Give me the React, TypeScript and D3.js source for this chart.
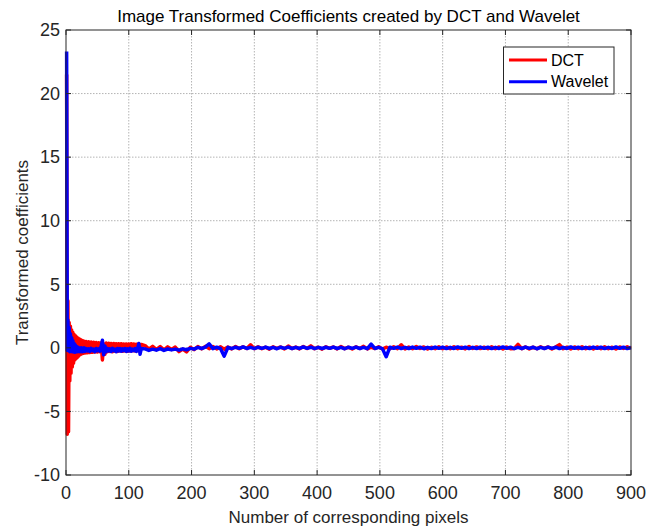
import * as d3 from "d3";

const xTicks = [0, 100, 200, 300, 400, 500, 600, 700, 800, 900];
const yTicks = [-10, -5, 0, 5, 10, 15, 20, 25];

// pixel index where each sample sits (dense at the start, where the coefficients are large)
const pixelIdx = [
    ...d3.range(1, 31),
    ...d3.range(32, 121, 2),
    ...d3.range(126, 901, 6),
];

const dctValues = [
    21.5, -6.8, 3.7, -6.6, 2.0, -2.6, 1.7, -2.0, 1.4, -1.5,
    1.2, -1.2, 1.05, -0.95, 0.95, -0.85, 0.85, -0.75, 0.78, -0.65,
    0.72, -0.55, 0.66, -0.5, 0.6, -0.45, 0.56, -0.42, 0.52, -0.4,
    // 32..120
    0.5, -0.38, 0.48, -0.36, 0.46, -0.35, 0.44, -0.33, 0.42, -0.32,
    0.4, -0.3, 0.4, -0.95, 0.3, -0.5, 0.38, -0.3, 0.36, -0.28,
    0.35, -0.3, 0.34, -0.26, 0.33, -0.28, 0.32, -0.25, 0.32, -0.27,
    0.3, -0.24, 0.3, -0.26, 0.3, -0.25, 0.32, -0.22, 0.3, -0.24,
    0.28, -0.22, 0.3, -0.3, 0.26,
    // 126..900
    0.18, -0.1, 0.12, -0.14, 0.1, -0.16, 0.08, -0.12, 0.06, -0.3,
    -0.1, -0.32, 0.05, -0.14, 0.1, -0.08, 0.12, -0.06, 0.1, -0.08,
    0.08, -0.1, 0.06, -0.08, 0.1, -0.06, 0.08, -0.05, 0.24, -0.06,
    0.08, -0.06, 0.05, -0.1, 0.08, -0.05, 0.07, -0.08, 0.14, -0.05,
    0.06, -0.08, 0.1, -0.05, 0.16, -0.07, 0.05, -0.1, 0.08, -0.04,
    0.07, -0.08, 0.1, -0.06, 0.05, -0.09, 0.08, -0.05, 0.12, -0.08,
    0.06, -0.05, 0.08, -0.1, 0.05, -0.07, 0.08, -0.06, 0.24, -0.08,
    0.06, -0.07, 0.1, -0.05, 0.07, -0.09, 0.05, -0.06, 0.08, -0.07,
    0.07, -0.06, 0.08, -0.07, 0.05, -0.08, 0.1, -0.05, 0.07, -0.06,
    0.05, -0.07, 0.08, -0.06, 0.07, -0.09, 0.06, -0.07, -0.05, 0.28,
    -0.06, 0.07, -0.08, 0.05, -0.07, 0.09, -0.05, 0.07, -0.08, 0.06,
    0.25, -0.07, 0.05, -0.08, 0.07, -0.06, 0.09, -0.07, 0.05, -0.08,
    0.07, -0.06, 0.08, -0.07, 0.05, -0.09, 0.07, -0.05, 0.08, -0.04,
];

const waveletValues = [
    23.3, -0.2, 2.2, 0.0, 1.6, -0.3, 1.1, -0.2, 0.8, -0.3,
    0.55, -0.3, 0.35, -0.35, 0.22, -0.3, 0.1, -0.3, 0.05, -0.28,
    0.0, -0.3, -0.02, -0.28, 0.0, -0.3, -0.05, -0.25, 0.0, -0.28,
    // 32..120
    -0.05, -0.25, -0.08, -0.28, -0.04, -0.22, -0.1, -0.3, -0.05, -0.22,
    -0.08, -0.26, 0.1, 0.6, -0.55, 0.15, -0.3, -0.05, -0.25, -0.08,
    -0.28, -0.04, -0.22, -0.1, -0.3, -0.05, -0.24, -0.06, -0.26, -0.08,
    -0.22, -0.05, -0.28, -0.08, -0.24, -0.04, -0.26, -0.1, -0.22, -0.05,
    -0.28, -0.08, 0.35, -0.5, -0.05,
    // 126..900
    -0.08, -0.2, -0.1, -0.18, -0.06, -0.2, -0.09, -0.16, -0.1, -0.18,
    -0.08, -0.15, -0.04, -0.1, 0.04, -0.05, 0.06, 0.32, -0.06, 0.05,
    -0.05, -0.65, 0.04, -0.06, 0.05, -0.04, 0.07, -0.05, 0.04, -0.06,
    0.05, -0.04, 0.06, -0.05, 0.04, -0.07, 0.05, -0.04, 0.06, -0.05,
    0.04, -0.05, 0.07, -0.04, 0.05, -0.06, 0.04, -0.05, 0.05, -0.04,
    0.06, -0.05, 0.04, -0.07, 0.05, -0.04, 0.06, -0.05, 0.04, -0.06,
    0.3, -0.05, 0.04, -0.06, -0.7, 0.05, -0.04, 0.06, -0.05, 0.04,
    -0.05, 0.06, -0.04, 0.05, -0.07, 0.04, -0.05, 0.06, -0.04, 0.05,
    -0.06, 0.04, -0.05, 0.07, -0.04, 0.05, -0.06, 0.04, -0.05, 0.06,
    -0.04, 0.05, -0.06, 0.04, -0.05, 0.07, -0.04, 0.05, -0.06, 0.04,
    -0.05, 0.06, -0.04, 0.05, -0.07, 0.04, -0.05, 0.06, -0.04, 0.05,
    -0.06, 0.04, -0.05, 0.07, -0.04, 0.05, -0.06, 0.04, -0.05, 0.06,
    -0.04, 0.05, -0.06, 0.04, -0.05, 0.07, -0.04, 0.05, -0.06, 0.03,
];

const seriesNames = ["DCT", "Wavelet"];
const seriesColors = ["#ff0000", "#0000ff"];

const width = 662;
const height = 529;
const marginLeft = 66;
const marginRight = 31;
const marginTop = 30;
const marginBottom = 54;
const font = "'Liberation Sans', Arial, sans-serif";

export default function App() {
    const xScale = d3.scaleLinear().domain([0, 900]).range([marginLeft, width - marginRight]);
    const yScale = d3.scaleLinear().domain([-10, 25]).range([height - marginBottom, marginTop]);

    const line = d3.line<number>()
        .x((_, i) => xScale(pixelIdx[i]))
        .y(d => yScale(d));

    const x0 = xScale(0), x1 = xScale(900);
    const y0 = yScale(-10), y1 = yScale(25);
    const tick = 5;

    return (
        <svg width={width} height={height} style={{ position: "absolute", left: 0, top: 0, background: "#fff" }}
             fontFamily={font}>
            {/* grid */}
            <g stroke="#b4b4b4" strokeWidth={1} strokeDasharray="1.5,1.5">
                {xTicks.slice(1, -1).map(t => (
                    <line key={"gx" + t} x1={xScale(t)} x2={xScale(t)} y1={y1} y2={y0} />
                ))}
                {yTicks.slice(1, -1).map(t => (
                    <line key={"gy" + t} x1={x0} x2={x1} y1={yScale(t)} y2={yScale(t)} />
                ))}
            </g>

            {/* series */}
            {[dctValues, waveletValues].map((vals, s) => (
                <path key={seriesNames[s]} d={line(vals) || ""} fill="none"
                      stroke={seriesColors[s]} strokeWidth={3.5} strokeLinejoin="round" />
            ))}

            {/* box and ticks */}
            <rect x={x0} y={y1} width={x1 - x0} height={y0 - y1} fill="none" stroke="#262626" strokeWidth={1} />
            <g stroke="#262626" strokeWidth={1}>
                {xTicks.map(t => (
                    <g key={"tx" + t}>
                        <line x1={xScale(t)} x2={xScale(t)} y1={y0} y2={y0 - tick} />
                        <line x1={xScale(t)} x2={xScale(t)} y1={y1} y2={y1 + tick} />
                    </g>
                ))}
                {yTicks.map(t => (
                    <g key={"ty" + t}>
                        <line x1={x0} x2={x0 + tick} y1={yScale(t)} y2={yScale(t)} />
                        <line x1={x1} x2={x1 - tick} y1={yScale(t)} y2={yScale(t)} />
                    </g>
                ))}
            </g>

            {/* tick labels */}
            <g fontSize={18} fill="#262626">
                {xTicks.map(t => (
                    <text key={"lx" + t} x={xScale(t)} y={y0 + 24} textAnchor="middle">{t}</text>
                ))}
                {yTicks.map(t => (
                    <text key={"ly" + t} x={x0 - 6} y={yScale(t)} dy="0.35em" textAnchor="end">{t}</text>
                ))}
            </g>

            {/* titles */}
            <text x={(x0 + x1) / 2} y={22} textAnchor="middle" fontSize={17} fill="#000">
                Image Transformed Coefficients created by DCT and Wavelet
            </text>
            <text x={(x0 + x1) / 2} y={height - 6} textAnchor="middle" fontSize={17} fill="#262626">
                Number of corresponding pixels
            </text>
            <text transform={`translate(28, ${(y0 + y1) / 2}) rotate(-90)`} textAnchor="middle" fontSize={17} fill="#262626">
                Transformed coefficients
            </text>

            {/* legend */}
            <g>
                <rect x={503.5} y={47} width={110.5} height={47} fill="#fff" stroke="#262626" strokeWidth={1} />
                {seriesNames.map((name, i) => (
                    <g key={name} transform={`translate(509, ${60 + i * 21.7})`}>
                        <line x1={0} x2={38} y1={0} y2={0} stroke={seriesColors[i]} strokeWidth={3} />
                        <text x={42} y={0} dy="0.35em" fontSize={16} fill="#000">{name}</text>
                    </g>
                ))}
            </g>
        </svg>
    );
}
